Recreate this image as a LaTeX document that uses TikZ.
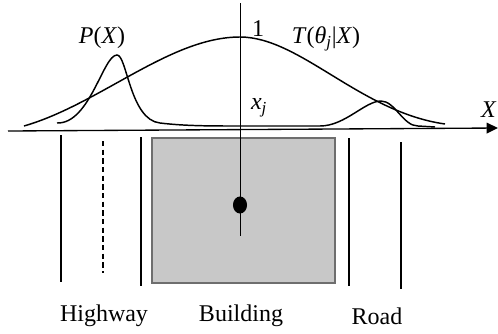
\documentclass[tikz,border=0pt]{standalone}
\usepackage{fontspec}
\setmainfont{Liberation Serif}
\usetikzlibrary{arrows.meta}

\tikzset{every picture/.style={line width=0.75pt}}
\tikzset{
  lbl/.style={inner sep=0.75pt, font=\fontsize{18}{20}\selectfont},
  curve/.style={line width=1.1pt},
  lane/.style={line width=1.3pt},
  kerb/.style={line width=2pt},
}

\begin{document}
\begin{tikzpicture}[x=0.75pt,y=0.75pt,yscale=-1,xscale=1]
\useasboundingbox (0,0) rectangle (498,333);

%Rect [id:building]
\draw  [color={rgb, 255:red, 110; green, 110; blue, 110 }, fill={rgb, 255:red, 200; green, 200; blue, 200 }, line width=1pt] (152,138) rectangle (335,283) ;

%Straight Lines [id:axis]
\draw  [line width=1pt, -{Triangle[length=8.5pt,width=8pt]}] (8,131) -- (498,128) ;

%Straight Lines [id:highway]
\draw  [lane] (61,135) -- (61,282) ;
\draw  [lane, dashed, dash pattern=on 4pt off 2.5pt] (103,141) -- (103,273) ;
\draw  [kerb] (141,137) -- (141,286) ;
%Straight Lines [id:road]
\draw  [kerb] (349,138) -- (349,286) ;
\draw  [lane] (401,142) -- (401,289) ;

%Straight Lines [id:xj line]
\draw    (240,3) -- (240,236) ;
%Ellipse [id:point]
\draw  [fill=black] (240,205) ellipse (6.5 and 8) ;

%Curve Lines [id:T curve]
\draw  [curve] (24,126) .. controls (100,104) and (170,37) .. (240,37) .. controls (300,37) and (360,112) .. (445,124) ;
%Curve Lines [id:P curve]
\draw  [curve] (57,123) .. controls (90,124) and (103,55) .. (117,55) .. controls (127,55) and (130,120) .. (160,123) .. controls (185,126) and (210,126) .. (240,126) -- (320,126) .. controls (345,126) and (365,101) .. (381,101) .. controls (395,101) and (403,126) .. (418,126) -- (435,127) ;

% Text Node
\node (pX) [lbl] at (102,38) {\textit{P}(\textit{X})};
% Text Node
\node (one) [lbl] at (258,29) {1};
% Text Node
\node (tX) [lbl] at (326,39) {\textit{T}(\textit{θ}\textsubscript{\textit{j}}|\textit{X})};
% Text Node
\node (xj) [lbl] at (259,108) {\textit{x}\textsubscript{\textit{j}}};
% Text Node
\node (X) [lbl, anchor=east] at (498,110) {\textit{X}};
% Text Node
\node (highway) [lbl] at (104,316) {Highway};
% Text Node
\node (building) [lbl] at (241,316) {Building};
% Text Node
\node (road) [lbl] at (377,316) {Road};

\end{tikzpicture}
\end{document}
